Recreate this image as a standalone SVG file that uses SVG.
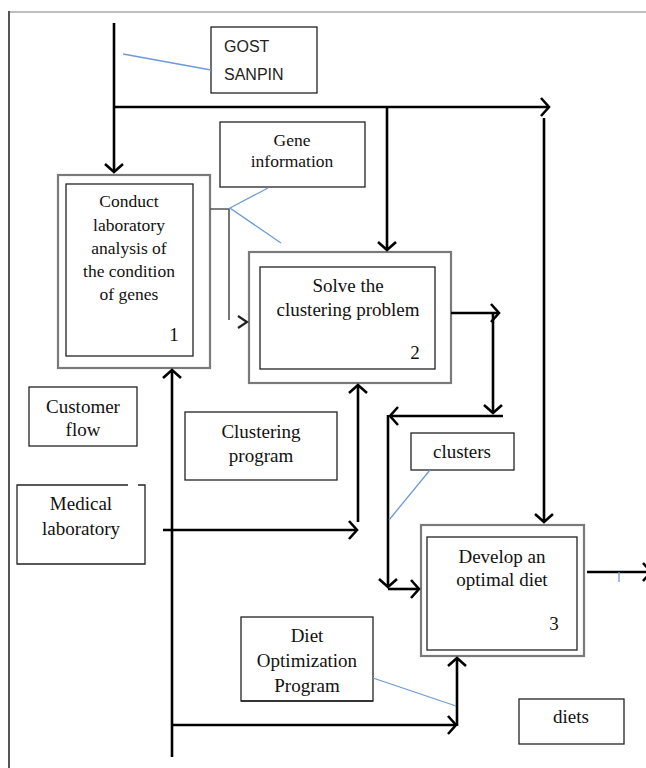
<svg xmlns="http://www.w3.org/2000/svg" width="646" height="768" viewBox="0 0 646 768">
<style>
.t{font-family:"Liberation Serif","Times New Roman",serif;font-size:19px;fill:#111;text-anchor:middle}
.ts{font-size:17.5px}
.s{font-family:"Liberation Sans",Arial,sans-serif;font-size:16px;fill:#222}
.box{fill:#fff;stroke:#222;stroke-width:1.3}
.outer{fill:#fff;stroke:#7a7a7a;stroke-width:2.2}
.inner{fill:#fff;stroke:#222;stroke-width:1.3}
.c{fill:none;stroke:#000;stroke-width:2.6}
.g{fill:none;stroke:#555;stroke-width:1.6}
.b{fill:none;stroke:#6e9ad6;stroke-width:1.3}
</style>
<defs>
<marker id="a" markerUnits="userSpaceOnUse" markerWidth="20" markerHeight="22" refX="10" refY="10" orient="auto" viewBox="0 0 20 20">
<path d="M2,1 L10,10 L2,19" fill="none" stroke="#000" stroke-width="2.6"/>
</marker>
</defs>
<rect width="646" height="768" fill="#fff"/>
<g id="frame">
<line x1="9" y1="12" x2="646" y2="12" stroke="#bdbdbd" stroke-width="2"/>
<line x1="9" y1="11" x2="9" y2="768" stroke="#555" stroke-width="2"/>
</g>
<g id="gost"><rect class="box" x="211" y="27" width="106" height="66"/><text class="s" x="224" y="52">GOST</text><text class="s" x="224" y="80">SANPIN</text></g>
<g id="gene"><rect class="box" x="220" y="122" width="145" height="65"/><text class="t ts" x="292" y="146">Gene</text><text class="t ts" x="292" y="167">information</text></g>
<g id="box1"><rect class="outer" x="58" y="175" width="152" height="193"/><rect class="inner" x="66" y="184" width="127" height="172"/>
<text class="t ts" x="129" y="207">Conduct</text><text class="t ts" x="129" y="231">laboratory</text><text class="t ts" x="129" y="254">analysis of</text><text class="t ts" x="129" y="277">the condition</text><text class="t ts" x="129" y="300">of genes</text><text class="t" x="174" y="341">1</text></g>
<g id="box2"><rect class="outer" x="249" y="252" width="202" height="131"/><rect class="inner" x="260" y="267" width="175" height="102"/>
<text class="t" x="348" y="292">Solve the</text><text class="t" x="348" y="316">clustering problem</text><text class="t" x="415" y="359">2</text></g>
<g id="box3"><rect class="outer" x="421" y="525" width="163" height="131"/><rect class="inner" x="427" y="537" width="150" height="113"/>
<text class="t" x="502" y="563">Develop an</text><text class="t" x="502" y="586">optimal diet</text><text class="t" x="554" y="630">3</text></g>
<g id="customer"><rect class="box" x="29" y="387" width="108" height="59"/><text class="t" x="83" y="413">Customer</text><text class="t" x="83" y="436">flow</text></g>
<g id="clprog"><rect class="box" x="185" y="412" width="152" height="68"/><text class="t" x="261" y="438">Clustering</text><text class="t" x="261" y="462">program</text></g>
<g id="medlab"><path d="M128,485 H17 V564 H145 V485 H138" fill="#fff" stroke="#222" stroke-width="1.3"/><text class="t" x="81" y="510">Medical</text><text class="t" x="81" y="535">laboratory</text></g>
<g id="clusters"><rect class="box" x="411" y="433" width="103" height="37"/><text class="t" x="462" y="458">clusters</text></g>
<g id="dietprog"><rect class="box" x="241" y="617" width="132" height="84"/><text class="t" x="307" y="642">Diet</text><text class="t" x="307" y="667">Optimization</text><text class="t" x="307" y="692">Program</text><line x1="241" y1="701" x2="373" y2="701" stroke="#222" stroke-width="1.3"/></g>
<g id="diets"><rect class="box" x="519" y="699" width="105" height="45"/><text class="t" x="571" y="723">diets</text></g>
<g id="connectors">
<path class="c" d="M114,23 V172" marker-end="url(#a)"/>
<path class="c" d="M114,107 H549" marker-end="url(#a)"/>
<path class="c" d="M387,107 V250" marker-end="url(#a)"/>
<path class="c" d="M544,118 V522" marker-end="url(#a)"/>
<path class="g" d="M210,209 H229 V320"/>
<path d="M238,316 L247,322 L238,328" fill="none" stroke="#222" stroke-width="2.2"/>
<path class="c" d="M451,313 H499" marker-end="url(#a)"/>
<path class="c" d="M493,313 V413" marker-end="url(#a)"/>
<path class="c" d="M503,416 H390" marker-end="url(#a)"/>
<path class="c" d="M388,415 V587" marker-end="url(#a)"/>
<path class="c" d="M388,589 H419" marker-end="url(#a)"/>
<path class="c" d="M172,757 V370" marker-end="url(#a)"/>
<path class="c" d="M163,530 H357" marker-end="url(#a)"/>
<path class="c" d="M358,522 V385" marker-end="url(#a)"/>
<path class="c" d="M172,725 H456" marker-end="url(#a)"/>
<path class="c" d="M457,726 V658" marker-end="url(#a)"/>
<path class="c" d="M587,572 H651" marker-end="url(#a)"/>
<path class="b" d="M123,54 L211,70"/>
<path class="b" d="M268,188 L230,208 L281,243"/>
<path class="b" d="M430,470 L389,520"/>
<path class="b" d="M373,678 L456,706"/>
<path class="b" d="M619,572 V582"/>
</g>
</svg>
